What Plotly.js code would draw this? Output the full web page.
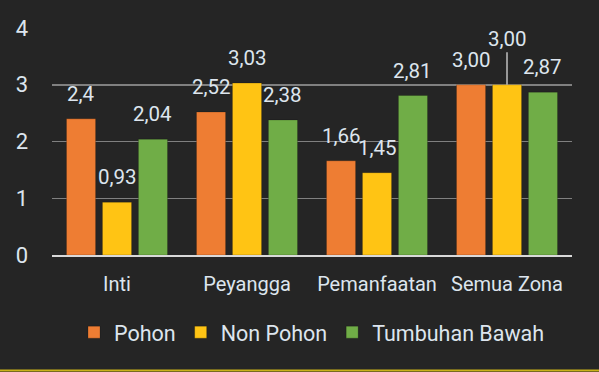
<!DOCTYPE html>
<html>
<head>
<meta charset="utf-8">
<script src="https://cdn.plot.ly/plotly-3.0.1.min.js"></script>
<style>html,body{margin:0;padding:0;background:#252525;}#chart{width:599px;height:372px;}</style>
</head>
<body>
<div id="chart"></div>
<script>
var categories = ["Inti", "Peyangga", "Pemanfaatan", "Semua Zona"];
var seriesNames = ["Pohon", "Non Pohon", "Tumbuhan Bawah"];
var pohon = [2.40, 2.52, 1.66, 3.00];
var nonPohon = [0.93, 3.03, 1.45, 3.00];
var tumbuhanBawah = [2.04, 2.38, 2.81, 2.87];
var labelsPohon = ["2,4", "2,52", "1,66", "3,00"];
var labelsNonPohon = ["0,93", "3,03", "1,45", "3,00"];
var labelsTumbuhan = ["2,04", "2,38", "2,81", "2,87"];
var yTicks = [0, 1, 2, 3, 4];

var colors = ["#ee7d33", "#ffc414", "#70ad47"];
var values = [pohon, nonPohon, tumbuhanBawah];
var labels = [labelsPohon, labelsNonPohon, labelsTumbuhan];

var bargap = 0.17;
var fontFam = "Roboto, 'DejaVu Sans', sans-serif";
var txtColor = "#dde5ee";

var xIdx = categories.map(function(c, i){ return i; });

var traces = values.map(function(v, k){
  return {
    type: "bar",
    name: seriesNames[k],
    x: xIdx,
    y: v,
    marker: {color: colors[k], line: {color: "rgba(0,0,0,0.25)", width: 0.8}},
    hoverinfo: "skip"
  };
});

var slot = (1 - bargap) / 3;
var annotations = [];
values.forEach(function(v, k){
  v.forEach(function(val, j){
    var a = {
      x: j + (k - 1) * slot,
      y: val,
      xref: "x", yref: "y",
      text: labels[k][j],
      font: {family: fontFam, size: 20.5, color: txtColor},
      showarrow: false,
      yshift: 25
    };
    if (k === 1 && j === 3) {
      a.showarrow = true;
      a.yshift = 0;
      a.ax = 0;
      a.ay = -46;
      a.arrowhead = 0;
      a.arrowwidth = 1.5;
      a.arrowcolor = "#bfbfbf";
      a.standoff = 0;
    }
    annotations.push(a);
  });
});

var layout = {
  width: 599,
  height: 372,
  paper_bgcolor: "#252525",
  plot_bgcolor: "#252525",
  margin: {l: 52, r: 27, t: 28, b: 117},
  barmode: "group",
  bargap: bargap,
  bargroupgap: 0.19,
  font: {family: fontFam, size: 20, color: txtColor},
  showlegend: true,
  legend: {
    orientation: "h",
    x: 0.5, xanchor: "center",
    y: -0.34, yanchor: "middle",
    font: {family: fontFam, size: 21.5, color: txtColor},
    itemwidth: 30,
    traceorder: "normal",
    bgcolor: "rgba(0,0,0,0)"
  },
  xaxis: {
    type: "linear",
    range: [-0.5, 3.5],
    tickmode: "array",
    tickvals: xIdx,
    ticktext: categories,
    showgrid: false,
    zeroline: false,
    showline: true,
    linecolor: "#d9d9d9",
    linewidth: 2,
    ticks: "",
    ticklabelstandoff: 10,
    tickfont: {family: fontFam, size: 20, color: txtColor},
    fixedrange: true
  },
  yaxis: {
    range: [0, 4],
    tickmode: "array",
    tickvals: yTicks,
    ticktext: yTicks.map(String),
    showgrid: true,
    gridcolor: "#808080",
    gridwidth: 1.5,
    zeroline: false,
    showline: false,
    ticks: "",
    ticklabelstandoff: 23,
    tickfont: {family: fontFam, size: 22, color: txtColor},
    fixedrange: true
  },
  annotations: annotations,
  shapes: [{
    type: "line", xref: "paper", yref: "paper",
    x0: -0.2, x1: 1.1, y0: -0.509, y1: -0.509,
    line: {color: "#c9b21a", width: 2}
  }]
};

Plotly.newPlot("chart", traces, layout, {displayModeBar: false, staticPlot: true});
</script>
</body>
</html>
